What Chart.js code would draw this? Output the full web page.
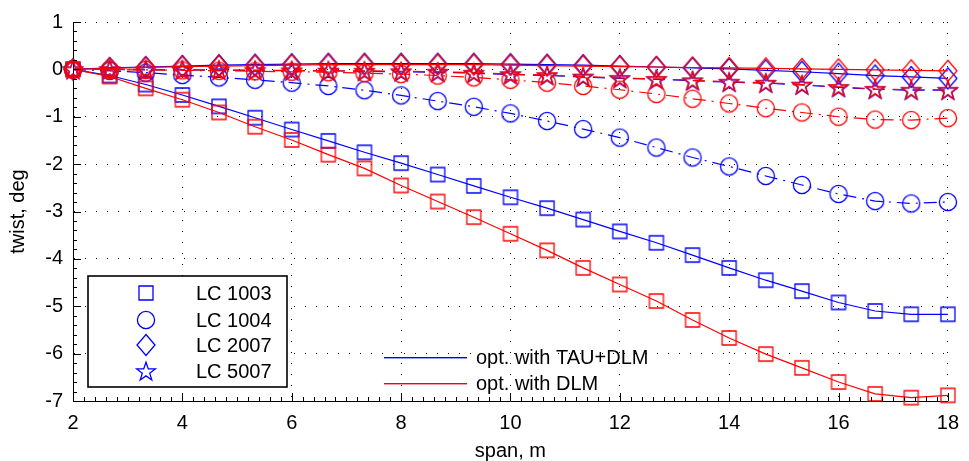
<!DOCTYPE html>
<html>
<head>
<meta charset="utf-8">
<script src="https://cdn.jsdelivr.net/npm/chart.js@4/dist/chart.umd.min.js"></script>
<style>
  html, body { margin: 0; padding: 0; background: #fff; }
  #wrap { width: 969px; height: 461px; }
</style>
</head>
<body>
<div id="wrap"><canvas id="twist" width="969" height="461"></canvas></div>
<script>
// ─── DATA ───
const span = [2, 2.67, 3.33, 4, 4.67, 5.33, 6, 6.67, 7.33, 8, 8.67, 9.33, 10,
              10.67, 11.33, 12, 12.67, 13.33, 14, 14.67, 15.33, 16, 16.67, 17.33, 18];

// opt. with TAU+DLM (blue)
const tau1003 = [0, -0.13, -0.32, -0.54, -0.78, -1.02, -1.27, -1.51, -1.75, -1.98, -2.22, -2.46, -2.70,
                 -2.93, -3.17, -3.42, -3.66, -3.92, -4.19, -4.45, -4.68, -4.92, -5.10, -5.17, -5.17];
const tau1004 = [0, -0.03, -0.07, -0.12, -0.17, -0.22, -0.28, -0.35, -0.44, -0.55, -0.67, -0.79, -0.93,
                 -1.09, -1.26, -1.44, -1.65, -1.86, -2.05, -2.25, -2.44, -2.63, -2.78, -2.83, -2.80];
const tau2007 = [0, 0.03, 0.05, 0.07, 0.09, 0.10, 0.11, 0.12, 0.12, 0.12, 0.12, 0.12, 0.11,
                 0.10, 0.09, 0.07, 0.05, 0.03, 0.01, -0.02, -0.05, -0.09, -0.13, -0.16, -0.19];
const tau5007 = [0, 0, -0.01, -0.01, -0.02, -0.02, -0.03, -0.03, -0.04, -0.05, -0.06, -0.08, -0.11,
                 -0.13, -0.16, -0.19, -0.21, -0.24, -0.27, -0.29, -0.33, -0.38, -0.42, -0.44, -0.44];

// opt. with DLM (red)
const dlm1003 = [0, -0.15, -0.40, -0.64, -0.91, -1.21, -1.49, -1.80, -2.09, -2.45, -2.79, -3.12, -3.47,
                 -3.82, -4.19, -4.54, -4.89, -5.29, -5.67, -6.01, -6.30, -6.60, -6.85, -6.93, -6.88];
const dlm1004 = [0, -0.01, -0.01, -0.02, -0.03, -0.04, -0.05, -0.06, -0.08, -0.10, -0.13, -0.17, -0.22,
                 -0.28, -0.35, -0.43, -0.52, -0.62, -0.72, -0.82, -0.91, -1.00, -1.06, -1.07, -1.03];
const dlm2007 = [0, 0.02, 0.04, 0.06, 0.07, 0.08, 0.09, 0.10, 0.10, 0.10, 0.10, 0.10, 0.09,
                 0.08, 0.07, 0.06, 0.05, 0.04, 0.03, 0.02, 0.01, 0, -0.01, -0.02, -0.03];
const dlm5007 = [0, 0, 0, -0.01, -0.01, -0.02, -0.02, -0.03, -0.03, -0.04, -0.05, -0.07, -0.10,
                 -0.12, -0.15, -0.18, -0.20, -0.23, -0.26, -0.28, -0.32, -0.37, -0.41, -0.43, -0.43];

const caseNames = ['LC 1003', 'LC 1004', 'LC 2007', 'LC 5007'];
const methodNames = ['opt. with TAU+DLM', 'opt. with DLM'];
const xTicks = [2, 4, 6, 8, 10, 12, 14, 16, 18];
const yTicks = [1, 0, -1, -2, -3, -4, -5, -6, -7];

const BLUE = 'rgb(0,0,255)';
const RED = 'rgb(255,0,0)';
const FONT = "'Liberation Sans', Arial, Helvetica, sans-serif";

// ─── MARKERS (matlab style, drawn once into small canvases) ───
function marker(shape, color) {
  const c = document.createElement('canvas');
  c.width = 26; c.height = 26;
  const g = c.getContext('2d');
  const m = 13;
  g.strokeStyle = color;
  g.lineWidth = 1.3;
  g.beginPath();
  if (shape === 'square') {
    g.rect(m - 7, m - 7, 14, 14);
  } else if (shape === 'circle') {
    g.arc(m, m, 8.6, 0, Math.PI * 2);
  } else if (shape === 'diamond') {
    g.moveTo(m, m - 10.5); g.lineTo(m + 9, m); g.lineTo(m, m + 10.5); g.lineTo(m - 9, m);
    g.closePath();
  } else {
    for (let i = 0; i < 10; i++) {
      const r = i % 2 ? 3.9 : 9.8;
      const a = -Math.PI / 2 + i * Math.PI / 5;
      const px = m + r * Math.cos(a), py = m + 1 + r * Math.sin(a);
      if (i) g.lineTo(px, py); else g.moveTo(px, py);
    }
    g.closePath();
  }
  g.stroke();
  return c;
}

const shapes = ['square', 'circle', 'diamond', 'star'];
const dashes = [[], [13, 6, 2, 6], [], [12, 8]];
const blueMarks = shapes.map(s => marker(s, BLUE));
const redMarks = shapes.map(s => marker(s, RED));

const tauSeries = [tau1003, tau1004, tau2007, tau5007];
const dlmSeries = [dlm1003, dlm1004, dlm2007, dlm5007];

function makeSet(vals, i, color, marks, order) {
  return {
    label: caseNames[i],
    data: span.map((x, k) => ({ x, y: vals[k] })),
    borderColor: color,
    borderWidth: 1.2,
    borderDash: dashes[i],
    pointStyle: marks[i],
    pointRadius: 9,
    pointBorderColor: color,
    fill: false,
    tension: 0,
    clip: false,
    order
  };
}

const datasets = [
  ...tauSeries.map((v, i) => makeSet(v, i, BLUE, blueMarks, 2)),
  ...dlmSeries.map((v, i) => makeSet(v, i, RED, redMarks, 1))
];

// ─── INWARD TICKS + LEGENDS ───
const matlabDecor = {
  id: 'matlabDecor',
  afterDraw(chart) {
    const { ctx, chartArea: a, scales: { x, y } } = chart;
    ctx.save();
    ctx.strokeStyle = '#000';
    ctx.lineWidth = 1;
    ctx.setLineDash([]);
    ctx.beginPath();
    for (let k = 0; k <= 80; k++) {
      const px = Math.round(x.getPixelForValue(2 + k * 0.2)) + 0.5;
      const len = k % 10 === 0 ? 8 : 4;
      ctx.moveTo(px, a.bottom); ctx.lineTo(px, a.bottom - len);
    }
    for (let k = 0; k <= 40; k++) {
      const py = Math.round(y.getPixelForValue(-7 + k * 0.2)) + 0.5;
      const len = k % 5 === 0 ? 8 : 4;
      ctx.moveTo(a.left, py); ctx.lineTo(a.left + len, py);
    }
    ctx.stroke();

    // legend: load cases
    ctx.fillStyle = '#fff';
    ctx.fillRect(88, 276, 199, 111);
    ctx.lineWidth = 1.6;
    ctx.strokeRect(88, 276, 199, 111);
    ctx.font = '20px ' + FONT;
    ctx.textBaseline = 'middle';
    ctx.textAlign = 'left';
    const rows = [293, 320, 345, 371];
    caseNames.forEach((name, i) => {
      ctx.drawImage(blueMarks[i], 146 - 13, rows[i] - 13);
      ctx.fillStyle = '#000';
      ctx.fillText(name, 196, rows[i] + 1);
    });

    // legend: methods (no box)
    const lines = [357, 383];
    [BLUE, RED].forEach((col, i) => {
      ctx.fillStyle = col;
      ctx.fillRect(384, lines[i], 83, 1.4);
      ctx.fillStyle = '#000';
      ctx.fillText(methodNames[i], 476, lines[i] + 1);
    });
    ctx.restore();
  }
};

// ─── CHART ───
new Chart(document.getElementById('twist'), {
  type: 'line',
  data: { datasets },
  plugins: [matlabDecor],
  options: {
    responsive: false,
    animation: false,
    devicePixelRatio: 1,
    layout: { padding: { top: 20, right: 14, left: 0, bottom: 0 } },
    plugins: { legend: { display: false }, tooltip: { enabled: false } },
    scales: {
      x: {
        type: 'linear',
        min: 2, max: 18,
        afterBuildTicks: s => { s.ticks = xTicks.map(v => ({ value: v })); },
        afterFit: s => { s.height = 60; },
        grid: { color: '#000', lineWidth: 1, drawTicks: false },
        border: { display: true, color: '#000', width: 1, dash: [1, 10] },
        ticks: { color: '#000', padding: 10, font: { family: FONT, size: 20 } },
        title: {
          display: true, text: 'span, m', color: '#000',
          font: { family: FONT, size: 20, lineHeight: 1 },
          padding: { top: 0, bottom: 0 }
        }
      },
      y: {
        type: 'linear',
        min: -7, max: 1,
        afterBuildTicks: s => { s.ticks = yTicks.map(v => ({ value: v })); },
        afterFit: s => { s.width = 73; },
        grid: { color: '#000', lineWidth: 1, drawTicks: false },
        border: { display: true, color: '#000', width: 1, dash: [1, 10] },
        ticks: { color: '#000', padding: 10, font: { family: FONT, size: 20 } },
        title: {
          display: true, text: 'twist, deg', color: '#000',
          font: { family: FONT, size: 20 },
          padding: { top: 6, bottom: 0 }
        }
      }
    }
  }
});
</script>
</body>
</html>
